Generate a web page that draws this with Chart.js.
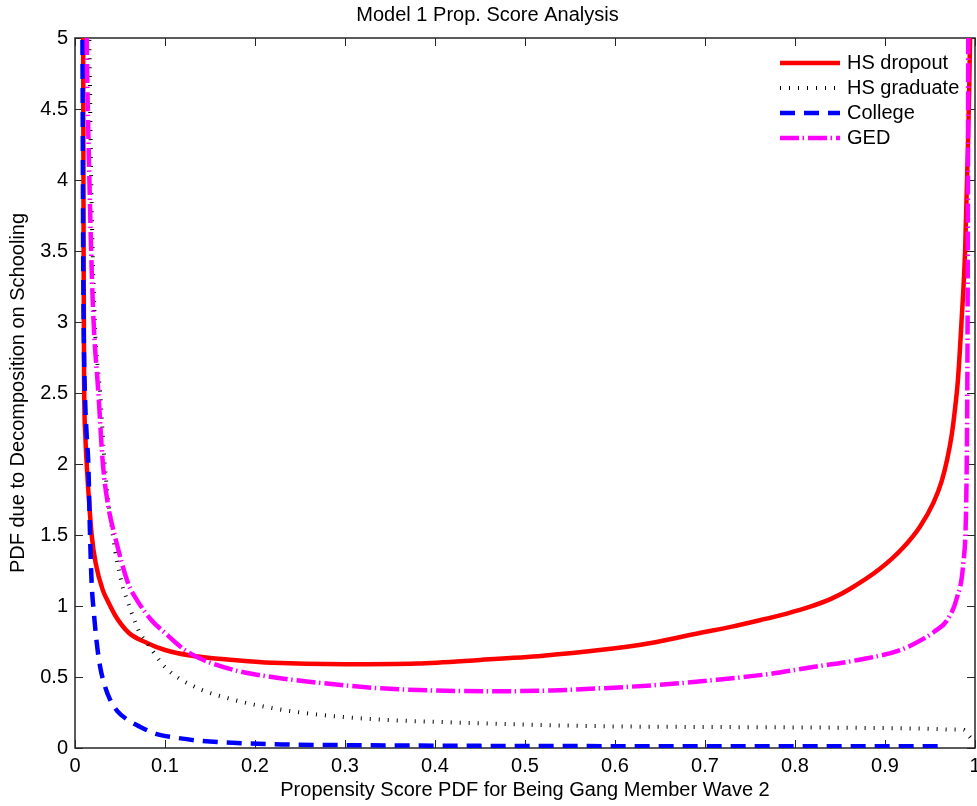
<!DOCTYPE html>
<html lang="en">
<head>
<meta charset="UTF-8">
<title>Model 1 Prop. Score Analysis</title>
<script src="https://cdn.jsdelivr.net/npm/chart.js@4.4.1/dist/chart.umd.min.js"></script>
<style>
  html, body { margin: 0; padding: 0; background: #fff; }
</style>
</head>
<body>
<canvas id="grafico" width="977" height="806"></canvas>

<script>
// valores
const xTicks = [0, 0.1, 0.2, 0.3, 0.4, 0.5, 0.6, 0.7, 0.8, 0.9, 1];
const yTicks = [0, 0.5, 1, 1.5, 2, 2.5, 3, 3.5, 4, 4.5, 5];

// HS dropout
const dropoutX = [0.0088, 0.0092, 0.0096, 0.0101, 0.0115, 0.013, 0.0155, 0.0185, 0.023, 0.031, 0.036, 0.045, 0.06, 0.08, 0.10, 0.13, 0.176, 0.22, 0.30, 0.38, 0.45, 0.52, 0.583, 0.64, 0.694, 0.73, 0.761, 0.79, 0.817, 0.84, 0.861, 0.894, 0.92, 0.939, 0.954, 0.963, 0.969, 0.974, 0.978, 0.981, 0.985, 0.989, 0.992, 0.9945, 0.996];
const dropoutY = [6.0, 4.5, 3.4, 2.6, 2.2, 2.0, 1.75, 1.5, 1.3, 1.11, 1.04, 0.93, 0.81, 0.74, 0.69, 0.65, 0.62, 0.60, 0.59, 0.595, 0.62, 0.65, 0.69, 0.74, 0.81, 0.855, 0.90, 0.945, 0.995, 1.05, 1.12, 1.26, 1.41, 1.56, 1.73, 1.88, 2.03, 2.2, 2.4, 2.59, 3.0, 3.5, 4.2, 5.0, 6.0];

// HS graduate
const gradX = [0.0145, 0.016, 0.018, 0.022, 0.028, 0.033, 0.042, 0.052, 0.058, 0.072, 0.08, 0.10, 0.13, 0.176, 0.22, 0.27, 0.34, 0.42, 0.5, 0.6, 0.7, 0.8, 0.9, 0.95, 0.975, 0.987, 0.994, 0.998];
const gradY = [6.0, 5.0, 4.0, 3.0, 2.5, 2.0, 1.5, 1.16, 1.04, 0.81, 0.74, 0.57, 0.44, 0.34, 0.28, 0.235, 0.2, 0.18, 0.165, 0.152, 0.148, 0.145, 0.14, 0.135, 0.13, 0.127, 0.08, 0.05];

// College
const collegeX = [0.0078, 0.0084, 0.009, 0.0096, 0.011, 0.013, 0.0148, 0.0167, 0.0185, 0.021, 0.024, 0.028, 0.033, 0.039, 0.047, 0.058, 0.072, 0.09, 0.11, 0.14, 0.18, 0.23, 0.3, 0.45, 0.6, 0.8, 0.96];
const collegeY = [6.0, 4.8, 3.6, 3.0, 2.5, 2.2, 2.0, 1.5, 1.16, 0.95, 0.75, 0.57, 0.44, 0.34, 0.26, 0.2, 0.15, 0.10, 0.075, 0.05, 0.035, 0.025, 0.02, 0.015, 0.013, 0.012, 0.012];

// GED
const gedX = [0.0115, 0.013, 0.016, 0.020, 0.026, 0.031, 0.037, 0.044, 0.059, 0.069, 0.085, 0.10, 0.12, 0.139, 0.165, 0.19, 0.23, 0.27, 0.34, 0.40, 0.47, 0.53, 0.583, 0.65, 0.713, 0.77, 0.82, 0.87, 0.917, 0.943, 0.955, 0.969, 0.98, 0.987, 0.990, 0.991, 0.9915, 0.992, 0.9925, 0.993];
const gedY = [6.0, 5.0, 4.0, 3.1, 2.5, 2.0, 1.7, 1.5, 1.16, 1.04, 0.9, 0.81, 0.7, 0.63, 0.57, 0.53, 0.49, 0.46, 0.42, 0.405, 0.40, 0.405, 0.42, 0.445, 0.48, 0.52, 0.57, 0.62, 0.69, 0.77, 0.82, 0.90, 1.06, 1.30, 1.65, 2.12, 2.6, 3.5, 5.0, 6.0];

const pontos = (xs, ys) => xs.map((x, i) => ({ x: x, y: ys[i] }));

const fonte = '"Liberation Sans", Arial, sans-serif';
Chart.defaults.font.family = fonte;
Chart.defaults.font.size = 20;
Chart.defaults.color = '#000';

// caixa dos eixos com marcas para dentro (estilo MATLAB)
const moldura = {
    id: 'moldura',
    beforeDatasetsDraw(chart) {
        const { ctx, chartArea: a, scales } = chart;
        const tam = 8;
        ctx.save();
        ctx.strokeStyle = '#262626';
        ctx.lineWidth = 1;
        ctx.beginPath();
        scales.x.ticks.forEach(t => {
            const px = Math.round(scales.x.getPixelForValue(t.value)) + 0.5;
            ctx.moveTo(px, a.bottom); ctx.lineTo(px, a.bottom - tam);
            ctx.moveTo(px, a.top); ctx.lineTo(px, a.top + tam);
        });
        scales.y.ticks.forEach(t => {
            const py = Math.round(scales.y.getPixelForValue(t.value)) + 0.5;
            ctx.moveTo(a.left, py); ctx.lineTo(a.left + tam, py);
            ctx.moveTo(a.right, py); ctx.lineTo(a.right - tam, py);
        });
        ctx.stroke();
        ctx.lineWidth = 1.5;
        ctx.strokeRect(a.left, a.top, a.right - a.left, a.bottom - a.top);
        ctx.restore();
    }
};

// legenda dentro do gráfico, canto superior direito, sem borda
const legenda = {
    id: 'legenda',
    afterDraw(chart) {
        const { ctx, chartArea: a } = chart;
        ctx.save();
        ctx.font = '20px ' + fonte;
        ctx.textBaseline = 'middle';
        chart.data.datasets.forEach((ds, i) => {
            const yy = a.top + 25 + i * 25;
            const x0 = a.right - 195;
            ctx.beginPath();
            ctx.setLineDash(ds.borderDash || []);
            ctx.lineWidth = ds.borderWidth;
            ctx.strokeStyle = ds.borderColor;
            ctx.moveTo(x0, yy);
            ctx.lineTo(x0 + 60, yy);
            ctx.stroke();
            ctx.setLineDash([]);
            ctx.fillStyle = '#000';
            ctx.fillText(ds.label, x0 + 67, yy);
        });
        ctx.restore();
    }
};

const comum = { showLine: true, pointRadius: 0, fill: false, clip: 0, cubicInterpolationMode: 'monotone' };
const rotulo = v => String(Math.round(v * 10) / 10);

const ctx = document.getElementById('grafico').getContext('2d');
const grafico = new Chart(ctx, {
    type: 'scatter',
    data: {
        datasets: [
            Object.assign({ label: 'HS dropout', data: pontos(dropoutX, dropoutY), borderColor: '#ff0000', borderWidth: 4.5, order: 3 }, comum),
            Object.assign({ label: 'HS graduate', data: pontos(gradX, gradY), borderColor: '#000000', borderWidth: 4, borderDash: [1, 8], order: 2 }, comum),
            Object.assign({ label: 'College', data: pontos(collegeX, collegeY), borderColor: '#0000ff', borderWidth: 4.5, borderDash: [15, 9], order: 1 }, comum),
            Object.assign({ label: 'GED', data: pontos(gedX, gedY), borderColor: '#ff00ff', borderWidth: 4.5, borderDash: [19, 3.5, 1.5, 4], order: 0 }, comum)
        ]
    },
    options: {
        responsive: false,
        animation: false,
        layout: { padding: { left: 0, right: 2, top: 0, bottom: 0 } },
        plugins: {
            legend: { display: false },
            tooltip: { enabled: false },
            title: {
                display: true,
                text: 'Model 1 Prop. Score Analysis',
                font: { size: 20, weight: 'normal' },
                padding: { top: 3, bottom: 11 }
            }
        },
        scales: {
            x: {
                type: 'linear',
                min: 0,
                max: 1,
                afterBuildTicks: s => { s.ticks = xTicks.map(v => ({ value: v })); },
                afterFit: s => { s.height = 58; s.paddingLeft = 0; s.paddingRight = 0; },
                grid: { display: false, drawTicks: false },
                border: { display: false },
                ticks: { padding: 6, maxRotation: 0, callback: rotulo },
                title: { display: true, text: 'Propensity Score PDF for Being Gang Member Wave 2', padding: { top: 0, bottom: 4 } }
            },
            y: {
                min: 0,
                max: 5,
                afterBuildTicks: s => { s.ticks = yTicks.map(v => ({ value: v })); },
                afterFit: s => { s.width = 75; },
                grid: { display: false, drawTicks: false },
                border: { display: false },
                ticks: { padding: 7, callback: rotulo },
                title: { display: true, text: 'PDF due to Decomposition on Schooling', padding: { top: 6, bottom: 0 } }
            }
        }
    },
    plugins: [moldura, legenda]
});
</script>
</body>
</html>
